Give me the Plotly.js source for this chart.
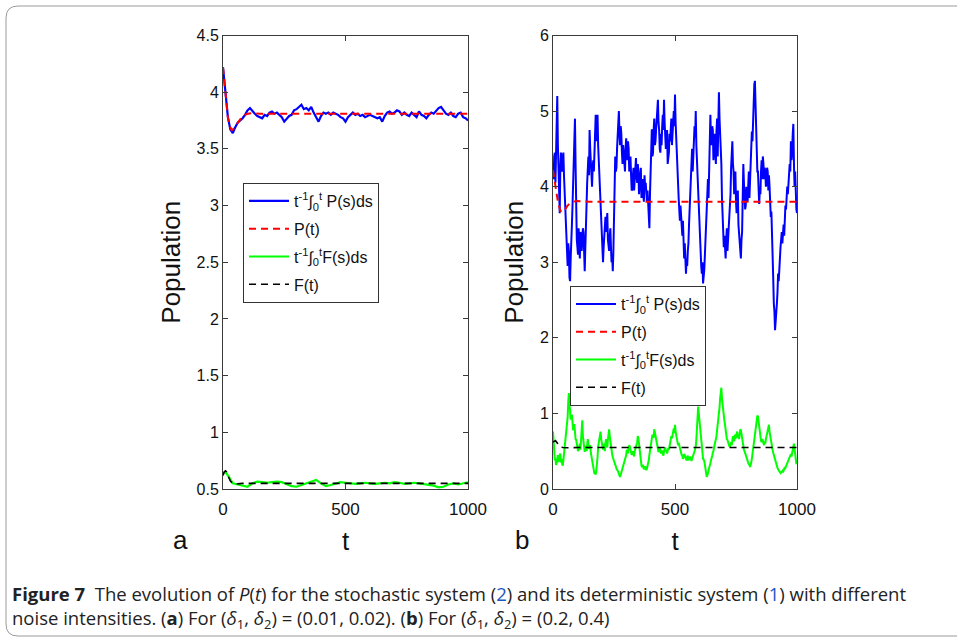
<!DOCTYPE html>
<html>
<head>
<meta charset="utf-8">
<script src="https://cdn.plot.ly/plotly-3.0.1.min.js"></script>
<style>html,body{margin:0;padding:0;background:#fff;}#chart{width:957px;height:642px;}</style>
</head>
<body>
<div id="chart"></div>
<script>
// ---------------- DATA ----------------
// Panel (a): (delta1, delta2) = (0.01, 0.02)
const tA_P = [0,10,20,30,40,50,60,70,80,90,100,110,120,130,140,150,160,170,180,190,200,210,220,230,240,250,260,270,280,290,300,310,320,330,340,350,360,370,380,390,400,410,420,430,440,450,460,470,480,490,500,510,520,530,540,550,560,570,580,590,600,610,620,630,640,650,660,670,680,690,700,710,720,730,740,750,760,770,780,790,800,810,820,830,840,850,860,870,880,890,900,910,920,930,940,950,960,970,980,990,1000];
const pA_mean = [4.22,4.00,3.78,3.67,3.64,3.69,3.73,3.75,3.77,3.80,
  3.84,3.86,3.83,3.81,3.79,3.78,3.77,3.80,3.79,3.82,
  3.83,3.81,3.82,3.80,3.78,3.74,3.77,3.79,3.80,3.84,
  3.85,3.87,3.89,3.85,3.86,3.84,3.87,3.82,3.78,3.74,
  3.79,3.82,3.81,3.82,3.80,3.82,3.81,3.80,3.78,3.77,
  3.74,3.78,3.80,3.82,3.80,3.81,3.79,3.80,3.78,3.79,
  3.80,3.79,3.78,3.77,3.78,3.74,3.79,3.82,3.83,3.81,
  3.82,3.84,3.83,3.80,3.82,3.80,3.79,3.82,3.80,3.78,
  3.83,3.80,3.79,3.77,3.80,3.82,3.81,3.84,3.86,3.87,
  3.84,3.81,3.80,3.82,3.79,3.78,3.81,3.82,3.78,3.77,
  3.75];
const tA_det = [0,5,10,15,20,25,30,35,40,50,60,70,80,90,100,120,150,200,300,500,1000];
const pA_det = [4.22,4.10,3.98,3.87,3.78,3.72,3.68,3.665,3.67,3.70,3.74,3.77,3.79,3.80,3.81,3.815,3.81,3.81,3.81,3.81,3.81];
const tA_F = [0,10,20,30,40,60,80,100,120,140,160,180,200,220,240,260,280,300,320,340,360,380,400,420,440,460,480,500,520,540,560,580,600,620,640,660,680,700,720,740,760,780,800,820,840,860,880,900,920,940,960,980,1000];
const fA_mean = [0.64,0.65,0.62,0.58,0.55,0.54,0.53,0.52,0.55,0.565,0.56,0.555,0.56,0.565,0.56,0.54,0.525,0.52,0.535,0.55,0.57,0.58,0.55,0.525,0.535,0.55,0.56,0.555,0.55,0.545,0.55,0.555,0.55,0.545,0.55,0.555,0.55,0.56,0.555,0.545,0.55,0.555,0.55,0.545,0.54,0.53,0.515,0.52,0.54,0.55,0.54,0.55,0.56];
const tA_Fdet = [0,5,10,15,20,25,30,40,50,60,80,100,150,1000];
const fA_det = [0.62,0.65,0.66,0.65,0.62,0.59,0.57,0.55,0.545,0.545,0.55,0.55,0.55,0.55];

// Panel (b): (delta1, delta2) = (0.2, 0.4)
const tB = [0,5,10,15,20,25,30,35,40,45,50,55,60,65,70,75,80,85,90,95,
  100,105,110,115,120,125,130,135,140,145,150,155,160,165,170,175,180,185,190,195,
  200,205,210,215,220,225,230,235,240,245,250,255,260,265,270,275,280,285,290,295,
  300,305,310,315,320,325,330,335,340,345,350,355,360,365,370,375,380,385,390,395,
  400,405,410,415,420,425,430,435,440,445,450,455,460,465,470,475,480,485,490,495,
  500,505,510,515,520,525,530,535,540,545,550,555,560,565,570,575,580,585,590,595,
  600,605,610,615,620,625,630,635,640,645,650,655,660,665,670,675,680,685,690,695,
  700,705,710,715,720,725,730,735,740,745,750,755,760,765,770,775,780,785,790,795,
  800,805,810,815,820,825,830,835,840,845,850,855,860,865,870,875,880,885,890,895,
  900,905,910,915,920,925,930,935,940,945,950,955,960,965,970,975,980,985,990,995,
  1000];
const pB_mean = [4.25,4.40,4.05,5.10,4.55,3.80,4.25,4.40,4.30,4.15,3.75,3.35,2.95,3.15,2.75,3.20,3.75,4.35,4.90,3.60,
  3.20,3.45,3.05,3.35,3.25,3.40,2.88,3.40,4.05,4.40,4.75,4.25,4.00,4.35,4.55,4.95,4.85,4.55,4.30,3.80,
  3.30,3.00,3.35,3.60,3.50,3.30,3.15,3.45,3.00,2.88,3.70,4.40,4.25,4.66,5.00,4.55,4.70,4.30,4.45,4.20,
  4.64,4.35,4.50,4.30,4.15,3.96,4.25,4.10,4.38,4.05,4.20,4.00,4.25,3.95,3.90,4.15,4.05,3.80,3.75,3.45,
  4.30,4.76,4.45,4.90,4.60,4.85,5.15,4.75,4.45,4.55,4.95,5.15,4.70,4.55,4.30,4.45,4.60,4.90,4.75,5.00,
  5.22,4.60,4.20,3.85,3.55,3.60,3.35,3.20,3.25,2.85,2.95,3.25,3.70,4.20,4.50,4.35,4.80,5.00,4.35,3.90,
  3.35,3.06,2.85,2.72,2.90,3.25,3.70,4.10,4.15,4.95,4.55,4.75,4.60,4.50,4.73,4.40,5.25,4.70,4.30,3.50,
  3.20,3.10,3.30,3.15,3.45,3.60,4.25,4.60,4.20,4.00,3.80,3.70,3.50,3.35,3.05,3.40,4.30,3.90,3.75,3.95,
  4.05,3.85,4.30,4.73,4.90,5.35,5.05,4.40,4.20,3.77,3.90,4.35,4.40,4.10,4.20,4.05,4.20,4.15,3.80,3.67,
  3.20,2.45,2.10,2.25,2.60,2.75,3.10,3.30,3.25,3.50,3.55,3.70,4.00,4.10,4.30,4.60,4.45,4.83,4.00,3.80,
  3.65];
const fB_mean = [0.76,0.55,0.40,0.34,0.45,0.38,0.47,0.40,0.31,0.45,0.60,0.78,0.95,1.27,1.05,0.96,0.88,0.80,0.74,0.65,
  0.58,0.52,0.60,0.72,0.91,0.60,0.49,0.55,0.62,0.60,0.55,0.48,0.44,0.30,0.20,0.19,0.30,0.56,0.68,0.76,
  0.60,0.52,0.55,0.61,0.58,0.65,0.79,0.62,0.49,0.42,0.38,0.32,0.27,0.24,0.20,0.16,0.22,0.30,0.35,0.40,
  0.45,0.50,0.54,0.56,0.50,0.47,0.46,0.50,0.55,0.62,0.67,0.50,0.35,0.29,0.30,0.28,0.27,0.27,0.33,0.45,
  0.58,0.65,0.70,0.79,0.70,0.60,0.54,0.50,0.52,0.49,0.46,0.50,0.55,0.52,0.50,0.52,0.60,0.70,0.72,0.80,
  0.85,0.72,0.65,0.61,0.55,0.48,0.44,0.42,0.45,0.40,0.42,0.38,0.41,0.40,0.40,0.45,0.50,0.56,0.80,1.09,
  0.90,0.70,0.55,0.40,0.37,0.28,0.16,0.20,0.28,0.34,0.40,0.48,0.55,0.61,0.70,0.85,1.00,1.20,1.34,1.10,
  0.96,0.85,0.70,0.65,0.60,0.56,0.62,0.64,0.67,0.72,0.70,0.76,0.70,0.74,0.78,0.70,0.56,0.50,0.45,0.40,
  0.35,0.32,0.31,0.40,0.56,0.70,0.80,0.90,0.96,0.80,0.67,0.62,0.64,0.58,0.60,0.70,0.78,0.85,0.70,0.60,
  0.52,0.45,0.37,0.32,0.28,0.25,0.23,0.22,0.24,0.25,0.29,0.30,0.35,0.40,0.42,0.46,0.50,0.56,0.52,0.37,
  0.38];
// intermediate samples (t = 2.5, 7.5, ...)
const tB_mid = [2.5,7.5,12.5,17.5,22.5,27.5,32.5,37.5,42.5,47.5,52.5,57.5,62.5,67.5,72.5,77.5,82.5,87.5,92.5,97.5,
  102.5,107.5,112.5,117.5,122.5,127.5,132.5,137.5,142.5,147.5,152.5,157.5,162.5,167.5,172.5,177.5,182.5,187.5,192.5,197.5,
  202.5,207.5,212.5,217.5,222.5,227.5,232.5,237.5,242.5,247.5,252.5,257.5,262.5,267.5,272.5,277.5,282.5,287.5,292.5,297.5,
  302.5,307.5,312.5,317.5,322.5,327.5,332.5,337.5,342.5,347.5,352.5,357.5,362.5,367.5,372.5,377.5,382.5,387.5,392.5,397.5,
  402.5,407.5,412.5,417.5,422.5,427.5,432.5,437.5,442.5,447.5,452.5,457.5,462.5,467.5,472.5,477.5,482.5,487.5,492.5,497.5,
  502.5,507.5,512.5,517.5,522.5,527.5,532.5,537.5,542.5,547.5,552.5,557.5,562.5,567.5,572.5,577.5,582.5,587.5,592.5,597.5,
  602.5,607.5,612.5,617.5,622.5,627.5,632.5,637.5,642.5,647.5,652.5,657.5,662.5,667.5,672.5,677.5,682.5,687.5,692.5,697.5,
  702.5,707.5,712.5,717.5,722.5,727.5,732.5,737.5,742.5,747.5,752.5,757.5,762.5,767.5,772.5,777.5,782.5,787.5,792.5,797.5,
  802.5,807.5,812.5,817.5,822.5,827.5,832.5,837.5,842.5,847.5,852.5,857.5,862.5,867.5,872.5,877.5,882.5,887.5,892.5,897.5,
  902.5,907.5,912.5,917.5,922.5,927.5,932.5,937.5,942.5,947.5,952.5,957.5,962.5,967.5,972.5,977.5,982.5,987.5,992.5,997.5];
const pB_mid = [4.10,4.45,4.60,5.20,4.30,3.65,4.45,4.20,4.45,3.90,3.60,3.00,3.25,2.80,3.05,3.50,4.10,4.70,4.30,3.30,
  3.10,3.25,3.40,3.15,3.45,3.00,3.20,3.75,4.30,4.15,4.50,4.10,4.25,4.20,4.75,4.60,4.95,4.35,4.05,3.55,
  3.10,3.20,3.55,3.40,3.65,3.20,3.35,3.20,3.10,3.15,4.05,4.20,4.50,4.85,4.70,4.80,4.45,4.55,4.25,4.50,
  4.45,4.60,4.20,4.40,3.95,4.15,3.95,4.30,4.15,4.30,3.90,4.15,3.85,4.10,3.80,4.00,3.85,3.95,3.60,3.90,
  4.55,4.40,4.75,4.55,4.75,4.95,4.85,4.50,4.70,4.80,4.75,4.85,4.50,4.75,4.40,4.70,4.75,4.55,4.95,4.80,
  4.85,4.35,3.95,3.70,3.75,3.40,3.55,3.05,3.00,3.05,3.15,3.50,3.95,4.40,4.20,4.60,4.65,4.55,4.10,3.65,
  3.20,2.95,3.00,2.80,3.10,3.50,3.90,3.85,4.55,4.60,4.80,4.35,4.70,4.30,4.90,4.95,4.90,4.45,3.85,3.25,
  3.35,3.05,3.45,3.30,3.55,3.90,4.50,4.30,3.90,4.20,3.65,3.95,3.40,3.20,3.30,3.85,4.05,3.70,4.00,3.80,
  4.20,4.10,4.55,4.60,5.10,5.40,4.70,4.20,4.00,3.95,4.20,4.10,4.30,4.25,4.00,4.25,3.95,4.00,3.60,3.45,
  2.80,2.35,2.20,2.45,2.85,3.00,3.20,3.40,3.45,3.35,3.75,3.85,3.90,4.25,4.20,4.35,4.70,4.30,4.20,3.70];
const fB_mid = [0.62,0.38,0.32,0.42,0.36,0.44,0.35,0.33,0.38,0.52,0.70,0.85,1.15,1.10,0.92,0.98,0.78,0.86,0.66,0.60,
  0.50,0.58,0.52,0.80,0.70,0.52,0.57,0.50,0.66,0.53,0.58,0.43,0.38,0.24,0.22,0.24,0.42,0.62,0.72,0.66,
  0.56,0.60,0.50,0.66,0.55,0.72,0.70,0.55,0.46,0.40,0.35,0.30,0.26,0.23,0.18,0.19,0.27,0.33,0.38,0.43,
  0.52,0.47,0.58,0.52,0.45,0.50,0.43,0.53,0.58,0.70,0.60,0.40,0.31,0.32,0.26,0.30,0.25,0.30,0.38,0.52,
  0.62,0.72,0.68,0.74,0.64,0.57,0.49,0.54,0.47,0.51,0.44,0.53,0.50,0.47,0.54,0.57,0.65,0.67,0.77,0.74,
  0.76,0.68,0.58,0.57,0.50,0.45,0.40,0.46,0.42,0.38,0.44,0.39,0.43,0.37,0.42,0.48,0.53,0.66,0.95,1.00,
  0.78,0.60,0.46,0.39,0.32,0.20,0.18,0.24,0.30,0.38,0.44,0.50,0.58,0.66,0.78,0.90,1.08,1.25,1.20,1.02,
  0.90,0.76,0.66,0.61,0.57,0.60,0.58,0.70,0.63,0.66,0.75,0.68,0.66,0.79,0.72,0.62,0.52,0.47,0.42,0.37,
  0.33,0.29,0.35,0.47,0.62,0.76,0.84,0.97,0.88,0.72,0.64,0.66,0.60,0.63,0.66,0.74,0.82,0.76,0.64,0.55,
  0.48,0.40,0.34,0.30,0.26,0.24,0.21,0.23,0.22,0.27,0.28,0.33,0.37,0.42,0.45,0.43,0.55,0.60,0.45,0.33];
const tB_det = [0,10,20,30,40,50,60,70,80,100,150,1000];
const pB_det = [4.22,4.00,3.80,3.68,3.66,3.70,3.75,3.78,3.80,3.81,3.80,3.80];
const tB_Fdet = [0,10,20,30,40,60,100,1000];
const fB_det = [0.62,0.64,0.60,0.56,0.55,0.545,0.55,0.55];

const seriesNames = ['t<sup>-1</sup>∫<sub>0</sub><sup>t</sup> P(s)ds','P(t)','t<sup>-1</sup>∫<sub>0</sub><sup>t</sup>F(s)ds','F(t)'];
const yTicksA = [0.5,1,1.5,2,2.5,3,3.5,4,4.5];
const yTicksB = [0,1,2,3,4,5,6];
const xTicks = [0,500,1000];

// merge the regular and intermediate samples into one time-ordered series
function merge(t1, v1, t2, v2) {
  const pts = t1.map((t, i) => [t, v1[i]]).concat(t2.map((t, i) => [t, v2[i]]));
  pts.sort((a, b) => a[0] - b[0]);
  return {t: pts.map(p => p[0]), v: pts.map(p => p[1])};
}
const bP = merge(tB, pB_mean, tB_mid, pB_mid);
const bF = merge(tB, fB_mean, tB_mid, fB_mid);

// ---------------- STYLE / LAYOUT ----------------
const W = 957, H = 642;
const px = v => v / W, py = v => 1 - v / H;
const FONT = '"Liberation Sans", Arial, sans-serif';
const BLUE = '#0000ff', RED = '#ff0000', GREEN = '#00ff00', BLACK = '#000000';

function tr(x, y, name, color, dash, w, xa, ya, leg, grp) {
  return {x: x, y: y, name: name, type: 'scatter', mode: 'lines', legendgroup: grp,
    line: {color: color, width: w, dash: dash}, xaxis: xa, yaxis: ya, legend: leg, hoverinfo: 'skip'};
}
const DASH = '7px,5px';
const traces = [
  tr(tA_P, pA_mean, seriesNames[0], BLUE, 'solid', 2.2, 'x', 'y', 'legend', 'a1'),
  tr(tA_det, pA_det, seriesNames[1], RED, DASH, 2, 'x', 'y', 'legend', 'a2'),
  tr(tA_F, fA_mean, seriesNames[2], GREEN, 'solid', 2.2, 'x', 'y', 'legend', 'a3'),
  tr(tA_Fdet, fA_det, seriesNames[3], BLACK, DASH, 1.6, 'x', 'y', 'legend', 'a4'),
  tr(bP.t, bP.v, seriesNames[0], BLUE, 'solid', 2, 'x2', 'y2', 'legend2', 'b1'),
  tr(tB_det, pB_det, seriesNames[1], RED, DASH, 2, 'x2', 'y2', 'legend2', 'b2'),
  tr(bF.t, bF.v, seriesNames[2], GREEN, 'solid', 2, 'x2', 'y2', 'legend2', 'b3'),
  tr(tB_Fdet, fB_det, seriesNames[3], BLACK, DASH, 1.6, 'x2', 'y2', 'legend2', 'b4')
];

const axBase = {showline: true, mirror: 'ticks', linecolor: '#3a3a3a', linewidth: 1,
  ticks: 'inside', ticklen: 5, tickcolor: '#3a3a3a', showgrid: false, zeroline: false,
  tickfont: {family: FONT, size: 16, color: '#111'}, fixedrange: true};

function xax(dom, anchor) {
  return Object.assign({}, axBase, {domain: dom, anchor: anchor, range: [0, 1000], tickvals: xTicks,
    tickfont: {family: FONT, size: 17, color: '#111'}, ticklabelstandoff: 5,
    title: {text: 't', font: {family: FONT, size: 26, color: '#111'}, standoff: 13}});
}
function yax(dom, anchor, rng, tv) {
  return Object.assign({}, axBase, {domain: dom, anchor: anchor, range: rng, tickvals: tv,
    title: {text: 'Population', font: {family: FONT, size: 26, color: '#111'}, standoff: 8}});
}
const legBase = {bgcolor: '#fff', bordercolor: '#333', borderwidth: 1, itemwidth: 40,
  font: {family: FONT, size: 16, color: '#111'}, xanchor: 'left', yanchor: 'top', tracegroupgap: 4};

const blue = '#1a56c4';
const caption = '<b>Figure 7</b>  The evolution of <i>P</i>(<i>t</i>) for the stochastic system (<span style="color:' + blue + '">2</span>) and its deterministic system (<span style="color:' + blue + '">1</span>) with different<br>' +
  'noise intensities. (<b>a</b>) For (<i>δ</i><sub>1</sub>, <i>δ</i><sub>2</sub>) = (0.01, 0.02). (<b>b</b>) For (<i>δ</i><sub>1</sub>, <i>δ</i><sub>2</sub>) = (0.2, 0.4)';

const layout = {
  width: W, height: H, margin: {l: 0, r: 0, t: 0, b: 0},
  paper_bgcolor: '#fff', plot_bgcolor: '#fff', showlegend: true,
  xaxis: xax([px(223), px(468)], 'y'),
  yaxis: yax([py(489), py(35.5)], 'x', [0.5, 4.5], yTicksA),
  xaxis2: xax([px(553), px(797)], 'y2'),
  yaxis2: yax([py(489), py(35.5)], 'x2', [0, 6], yTicksB),
  legend: Object.assign({}, legBase, {x: px(243), y: py(183)}),
  legend2: Object.assign({}, legBase, {x: px(570), y: py(286)}),
  shapes: [{type: 'path', xref: 'paper', yref: 'paper',
    path: 'M 1.01,' + py(6) + ' L ' + px(18) + ',' + py(6) + ' Q ' + px(6) + ',' + py(6) + ' ' + px(6) + ',' + py(18) +
      ' L ' + px(6) + ',' + py(624) + ' Q ' + px(6) + ',' + py(636) + ' ' + px(18) + ',' + py(636) + ' L 1.01,' + py(636),
    line: {color: '#9a9a9a', width: 1}}],
  annotations: [
    {text: 'a', xref: 'paper', yref: 'paper', x: px(180), y: py(540), xanchor: 'center', yanchor: 'middle',
      showarrow: false, font: {family: FONT, size: 26, color: '#111'}},
    {text: 'b', xref: 'paper', yref: 'paper', x: px(522), y: py(540), xanchor: 'center', yanchor: 'middle',
      showarrow: false, font: {family: FONT, size: 26, color: '#111'}},
    {text: caption, xref: 'paper', yref: 'paper', x: px(10), y: py(607), xanchor: 'left', yanchor: 'middle',
      align: 'left', showarrow: false, font: {family: '"Open Sans", sans-serif', size: 18.5, color: '#222'}}
  ]
};

Plotly.newPlot('chart', traces, layout, {displayModeBar: false, staticPlot: true});
</script>
</body>
</html>
